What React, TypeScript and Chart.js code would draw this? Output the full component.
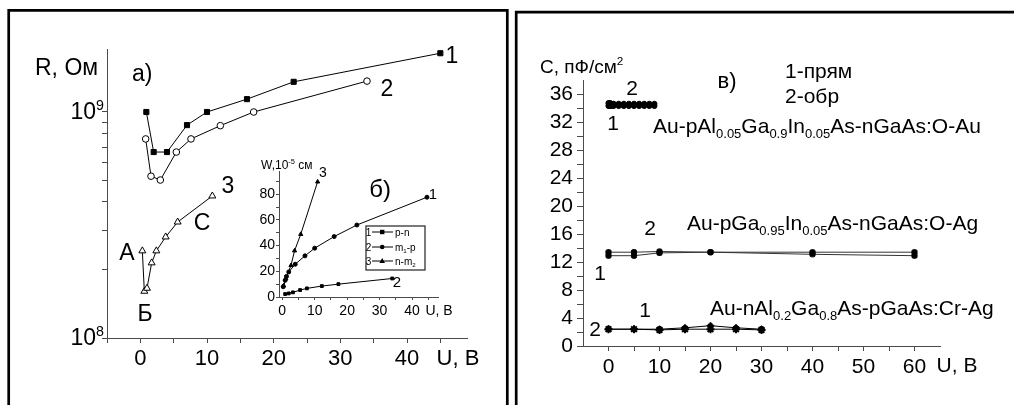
import React, { useEffect, useRef } from 'react';
import { Chart, registerables } from 'chart.js';

Chart.register(...registerables);

const FONT = '"Liberation Sans", Arial, Helvetica, sans-serif';
const AXIS = '#4a4a4a';

// ---------- Panel а): R(U), log scale ----------
const uR1 = [0.9, 2, 4, 7, 10, 16, 23, 45];
const rR1 = [1.0e9, 6.65e8, 6.65e8, 8.75e8, 1.0e9, 1.14e9, 1.36e9, 1.82e9];
const uR2 = [0.8, 1.6, 3, 5.4, 7.6, 12, 17, 34];
const rR2 = [7.6e8, 5.2e8, 5.0e8, 6.65e8, 7.6e8, 8.7e8, 1.0e9, 1.37e9];
const uR3 = [0.3, 0.6, 1.0, 1.7, 2.4, 3.8, 5.6, 10.8];
const rR3 = [2.43e8, 1.61e8, 1.66e8, 2.15e8, 2.43e8, 2.8e8, 3.26e8, 4.25e8];
const rXTicks = [-5, 0, 5, 10, 15, 20, 25, 30, 35, 40, 45];
const rXLabels = [0, 10, 20, 30, 40];
const rYTicks = [1e8, 2e8, 3e8, 4e8, 5e8, 6e8, 7e8, 8e8, 9e8, 1e9];
const rYLabelValues = [1e8, 1e9];
const rYLabelExps = ['8', '9'];

// ---------- Inset б): W(U) ----------
const uW1 = [0.3, 0.9, 1.3, 2, 4, 7, 10, 16, 23, 44.6];
const w1 = [8, 13, 16, 19.5, 25.5, 32, 38, 47, 56, 77.6];
const uW2 = [0.9, 2, 3.3, 5.5, 7.6, 12.2, 17.3, 33.9];
const w2 = [2.3, 2.8, 3.6, 5.4, 6.7, 8.5, 10, 14.4];
const uW3 = [0.4, 1.1, 2.7, 3.8, 5.7, 10.9];
const w3 = [8.8, 14.4, 24.6, 36, 48.8, 89.6];
const wXTicks = [0, 5, 10, 15, 20, 25, 30, 35, 40, 45];
const wXLabels = [0, 10, 20, 30, 40];
const wYTicks = [0, 10, 20, 30, 40, 50, 60, 70, 80, 90];
const wYLabels = [0, 20, 40, 60, 80];

// ---------- Panel в): C(U) ----------
const uCtop = [0, 0.3, 0.6, 1, 2, 3, 4, 5, 6, 7, 8, 9];
const cTop1 = [34.3, 34.3, 34.3, 34.3, 34.3, 34.3, 34.3, 34.3, 34.3, 34.3, 34.3, 34.3];
const cTop2 = [34.7, 34.7, 34.6, 34.6, 34.6, 34.6, 34.6, 34.6, 34.6, 34.6, 34.6, 34.6];
const uCmid = [0, 5, 10, 20, 40, 60];
const cMid1 = [12.9, 12.9, 13.3, 13.4, 13.1, 12.9];
const cMid2 = [13.4, 13.4, 13.5, 13.4, 13.4, 13.4];
const uCbot = [0, 5, 10, 15, 20, 25, 30];
const cBot1 = [2.4, 2.4, 2.4, 2.6, 2.9, 2.6, 2.4];
const cBot2 = [2.4, 2.4, 2.3, 2.4, 2.4, 2.4, 2.3];
const cXTicks = [0, 5, 10, 15, 20, 25, 30, 35, 40, 45, 50, 55, 60];
const cXLabels = [0, 10, 20, 30, 40, 50, 60];
const cYTicks = [0, 2, 4, 6, 8, 10, 12, 14, 16, 18, 20, 22, 24, 26, 28, 30, 32, 34, 36];
const cYLabels = [0, 4, 8, 12, 16, 20, 24, 28, 32, 36];

type Part = [string, number]; // 0 normal, 1 subscript, 2 superscript

function drawRich(ctx: CanvasRenderingContext2D, x: number, yc: number, parts: Part[], size: number, align = 'left') {
  const small = size * 0.62;
  ctx.save();
  ctx.fillStyle = '#000';
  ctx.textBaseline = 'alphabetic';
  ctx.textAlign = 'left';
  const widths = parts.map(([t, m]) => {
    ctx.font = `${m ? small : size}px ${FONT}`;
    return ctx.measureText(t).width;
  });
  const total = widths.reduce((p, q) => p + q, 0);
  let cx = align === 'center' ? x - total / 2 : align === 'right' ? x - total : x;
  const base = yc + size * 0.36;
  parts.forEach(([t, m], i) => {
    ctx.font = `${m ? small : size}px ${FONT}`;
    const y = m === 1 ? base + size * 0.28 : m === 2 ? base - size * 0.42 : base;
    ctx.fillText(t, cx, y);
    cx += widths[i];
  });
  ctx.restore();
}

function txt(ctx: CanvasRenderingContext2D, s: string, x: number, yc: number, size: number, align = 'center') {
  drawRich(ctx, x, yc, [[s, 0]], size, align);
}

const pts = (xs: number[], ys: number[]) => xs.map((x, i) => ({ x, y: ys[i] }));

function axisX(min: number, max: number, ticks: number[], labels: number[], height: number, size: number, pad: number, tl: number) {
  return {
    type: 'linear', min, max,
    afterBuildTicks: (s: any) => { s.ticks = ticks.map((v) => ({ value: v })); },
    afterFit: (s: any) => { s.height = height; },
    ticks: {
      autoSkip: false, maxRotation: 0, padding: pad, color: '#000',
      font: { family: FONT, size },
      callback: (v: number) => (labels.includes(v) ? String(v) : ''),
    },
    grid: { drawOnChartArea: false, drawTicks: true, tickLength: tl, tickColor: AXIS, tickWidth: 1 },
    border: { display: true, color: AXIS, width: 1 },
  };
}

function axisY(min: number, max: number, ticks: number[], labels: number[], width: number, size: number, pad: number, tl: number) {
  return {
    type: 'linear', min, max,
    afterBuildTicks: (s: any) => { s.ticks = ticks.map((v) => ({ value: v })); },
    afterFit: (s: any) => { s.width = width; },
    ticks: {
      autoSkip: false, padding: pad, color: '#000',
      font: { family: FONT, size },
      callback: (v: number) => (labels.includes(v) ? String(v) : ''),
    },
    grid: { drawOnChartArea: false, drawTicks: true, tickLength: tl, tickColor: AXIS, tickWidth: 1 },
    border: { display: true, color: AXIS, width: 1 },
  };
}

const baseOpts = {
  responsive: false,
  animation: false,
  devicePixelRatio: 1,
  events: [],
  plugins: { legend: { display: false }, tooltip: { enabled: false } },
};

const line = (data: any[], extra: any) => ({
  data, showLine: true, borderColor: '#000', borderWidth: 1, clip: false,
  pointBorderColor: '#000', pointBorderWidth: 1, ...extra,
});

function mainConfig(): any {
  return {
    type: 'scatter',
    data: {
      datasets: [
        line(pts(uR1, rR1), { pointStyle: 'rect', pointRadius: 3.6, pointBackgroundColor: '#000' }),
        line(pts(uR2, rR2), { pointStyle: 'circle', pointRadius: 3.3, pointBackgroundColor: '#fff' }),
        line(pts(uR3, rR3), { pointStyle: 'triangle', pointRadius: 4, pointBackgroundColor: '#fff' }),
      ],
    },
    options: {
      ...baseOpts,
      layout: { padding: { left: 0, right: 547, top: 49, bottom: 0 } },
      scales: {
        x: axisX(-5, 49, rXTicks, rXLabels, 67, 22, 3, 5),
        y: {
          type: 'logarithmic', min: 1e8, max: 1.9e9,
          afterBuildTicks: (s: any) => { s.ticks = rYTicks.map((v) => ({ value: v })); },
          afterFit: (s: any) => { s.width = 107; },
          ticks: { autoSkip: false, padding: 1, color: '#000', font: { family: FONT, size: 22 }, callback: () => '' },
          grid: { drawOnChartArea: false, drawTicks: true, tickLength: 5, tickColor: AXIS },
          border: { display: true, color: AXIS, width: 1 },
        },
      },
    },
    plugins: [{
      id: 'mainText',
      afterDraw(chart: any) {
        const ctx = chart.ctx as CanvasRenderingContext2D;
        // frames
        ctx.save();
        ctx.strokeStyle = '#000';
        ctx.lineWidth = 2.7;
        ctx.beginPath();
        ctx.moveTo(8.7, 405); ctx.lineTo(8.7, 10.3); ctx.lineTo(507.3, 10.3); ctx.lineTo(507.3, 405);
        ctx.moveTo(516.2, 405); ctx.lineTo(516.2, 12.2); ctx.lineTo(1014, 12.2);
        ctx.stroke();
        ctx.restore();
        // log-axis decade labels, placed through the y scale
        const ys = chart.scales.y;
        rYLabelValues.forEach((v, i) => {
          drawRich(ctx, 104, ys.getPixelForValue(v) - 1, [['10', 0], [rYLabelExps[i], 2]], 23, 'right');
        });
        txt(ctx, 'R, Ом', 35, 67, 23, 'left');
        txt(ctx, 'а)', 132, 73, 23, 'left');
        txt(ctx, '1', 452, 55, 23);
        txt(ctx, '2', 387, 88, 23);
        txt(ctx, '3', 228, 185, 23);
        txt(ctx, 'А', 127, 252, 23);
        txt(ctx, 'Б', 145, 313, 23);
        txt(ctx, 'С', 202, 222, 23);
        txt(ctx, 'U, В', 458, 357, 22);
      },
    }],
  };
}

function insetConfig(): any {
  return {
    type: 'scatter',
    data: {
      datasets: [
        line(pts(uW1, w1), { pointStyle: 'circle', pointRadius: 2, pointBackgroundColor: '#000' }),
        line(pts(uW2, w2), { pointStyle: 'rect', pointRadius: 2, pointBackgroundColor: '#000' }),
        line(pts(uW3, w3), { pointStyle: 'triangle', pointRadius: 2.4, pointBackgroundColor: '#000' }),
      ],
    },
    options: {
      ...baseOpts,
      layout: { padding: { left: 0, right: 576, top: 171, bottom: 0 } },
      scales: {
        x: axisX(-1, 48, wXTicks, wXLabels, 108, 14, 3, 3),
        y: axisY(0, 98, wYTicks, wYLabels, 279, 14, 1, 3),
      },
    },
    plugins: [{
      id: 'insetText',
      afterDraw(chart: any) {
        const ctx = chart.ctx as CanvasRenderingContext2D;
        drawRich(ctx, 261, 165, [['W,10', 0], ['-5', 2], [' см', 0]], 12, 'left');
        txt(ctx, '3', 323, 172, 14);
        txt(ctx, 'б)', 380, 188, 24);
        txt(ctx, '1', 433, 194, 15);
        txt(ctx, '2', 397, 282, 15);
        txt(ctx, 'U, В', 439, 310, 14);
        // legend box
        ctx.save();
        ctx.strokeStyle = '#333';
        ctx.lineWidth = 1.3;
        ctx.strokeRect(366, 226, 59, 44);
        const rows = [232, 247, 261];
        const names: Part[][] = [
          [['p-n', 0]],
          [['m', 0], ['1', 1], ['-p', 0]],
          [['n-m', 0], ['2', 1]],
        ];
        rows.forEach((y, i) => {
          txt(ctx, String(i + 1), 368.5, y, 10);
          ctx.strokeStyle = '#000';
          ctx.lineWidth = 1;
          ctx.beginPath(); ctx.moveTo(372, y); ctx.lineTo(393, y); ctx.stroke();
          ctx.fillStyle = '#000';
          ctx.beginPath();
          if (i === 0) ctx.rect(380, y - 2.2, 4.4, 4.4);
          else if (i === 1) ctx.arc(382.2, y, 2.3, 0, Math.PI * 2);
          else { ctx.moveTo(382.2, y - 3); ctx.lineTo(385, y + 2); ctx.lineTo(379.4, y + 2); ctx.closePath(); }
          ctx.fill();
          drawRich(ctx, 395, y, names[i], 10, 'left');
        });
        ctx.restore();
      },
    }],
  };
}

function rightConfig(): any {
  return {
    type: 'scatter',
    data: {
      datasets: [
        line(pts(uCtop, cTop1), { pointStyle: 'circle', pointRadius: 2.6, pointBackgroundColor: '#000' }),
        line(pts(uCtop, cTop2), { pointStyle: 'circle', pointRadius: 2.6, pointBackgroundColor: '#000' }),
        line(pts(uCmid, cMid1), { pointStyle: 'rectRounded', pointRadius: 3, pointBackgroundColor: '#000', borderColor: '#333' }),
        line(pts(uCmid, cMid2), { pointStyle: 'rectRounded', pointRadius: 3, pointBackgroundColor: '#000', borderColor: '#333' }),
        line(pts(uCbot, cBot1), { pointStyle: 'rectRot', pointRadius: 3.5, pointBackgroundColor: '#000' }),
        line(pts(uCbot, cBot2), { pointStyle: 'star', pointRadius: 4, pointBorderWidth: 2, pointBackgroundColor: '#000' }),
      ],
    },
    options: {
      ...baseOpts,
      layout: { padding: { left: 0, right: 74, top: 80, bottom: 0 } },
      scales: {
        x: axisX(-5, 65, cXTicks, cXLabels, 59, 21, 4, 5),
        y: axisY(0, 38, cYTicks, cYLabels, 583, 21, 4, 6),
      },
    },
    plugins: [{
      id: 'rightText',
      afterDraw(chart: any) {
        const ctx = chart.ctx as CanvasRenderingContext2D;
        drawRich(ctx, 540, 66, [['С, пФ/см', 0], ['2', 2]], 19, 'left');
        txt(ctx, 'в)', 727, 80, 22);
        txt(ctx, '1-прям', 785, 70, 21, 'left');
        txt(ctx, '2-обр', 785, 95, 21, 'left');
        txt(ctx, '2', 632, 87, 21);
        txt(ctx, '1', 613, 122, 21);
        drawRich(ctx, 653, 125, [['Au-pAl', 0], ['0.05', 1], ['Ga', 0], ['0.9', 1], ['In', 0], ['0.05', 1], ['As-nGaAs:O-Au', 0]], 21, 'left');
        txt(ctx, '2', 650, 227, 21);
        txt(ctx, '1', 600, 272, 21);
        drawRich(ctx, 687, 222, [['Au-pGa', 0], ['0.95', 1], ['In', 0], ['0.05', 1], ['As-nGaAs:O-Ag', 0]], 21, 'left');
        txt(ctx, '1', 645, 309, 21);
        txt(ctx, '2', 595, 328, 21);
        drawRich(ctx, 710, 307, [['Au-nAl', 0], ['0.2', 1], ['Ga', 0], ['0.8', 1], ['As-pGaAs:Cr-Ag', 0]], 21, 'left');
        txt(ctx, 'U, В', 957, 364, 21);
      },
    }],
  };
}

export default function App() {
  const a = useRef<HTMLCanvasElement>(null);
  const b = useRef<HTMLCanvasElement>(null);
  const c = useRef<HTMLCanvasElement>(null);
  useEffect(() => {
    const charts = [
      new Chart(a.current as HTMLCanvasElement, mainConfig()),
      new Chart(b.current as HTMLCanvasElement, insetConfig()),
      new Chart(c.current as HTMLCanvasElement, rightConfig()),
    ];
    return () => charts.forEach((ch) => ch.destroy());
  }, []);
  const cs: React.CSSProperties = { position: 'absolute', left: 0, top: 0, width: 1014, height: 405 };
  return (
    <div style={{ position: 'fixed', left: 0, top: 0, width: 1014, height: 405, background: '#fff' }}>
      <canvas ref={a} width={1014} height={405} style={cs} />
      <canvas ref={b} width={1014} height={405} style={cs} />
      <canvas ref={c} width={1014} height={405} style={cs} />
    </div>
  );
}
